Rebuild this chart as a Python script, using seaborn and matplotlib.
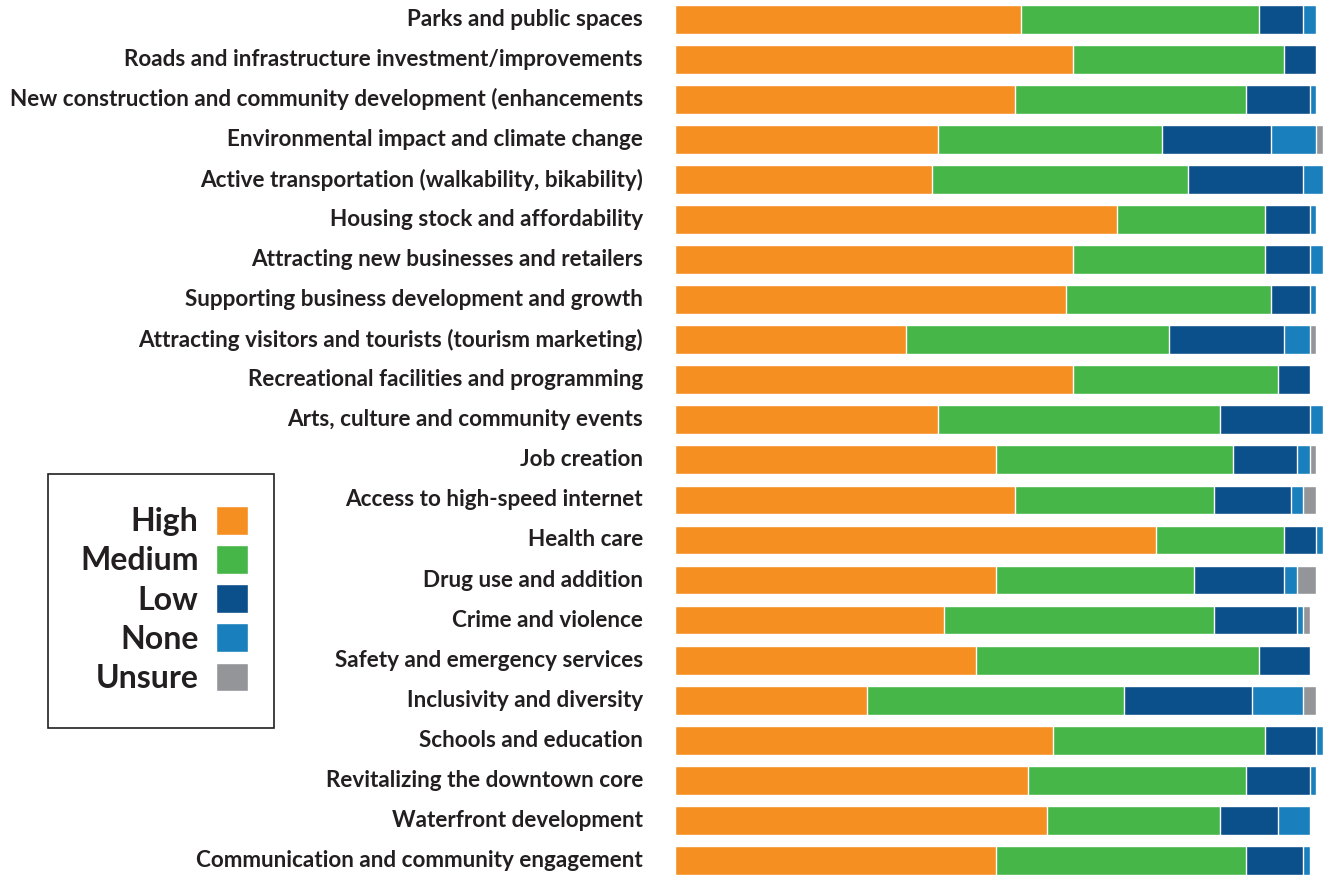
import numpy as np
import pandas as pd
import matplotlib
matplotlib.use("Agg")
import matplotlib.pyplot as plt
from matplotlib.patches import Rectangle
from matplotlib.transforms import ScaledTranslation
import seaborn as sns

categories = [
    "Parks and public spaces",
    "Roads and infrastructure investment/improvements",
    "New construction and community development (enhancements",
    "Environmental impact and climate change",
    "Active transportation (walkability, bikability)",
    "Housing stock and affordability",
    "Attracting new businesses and retailers",
    "Supporting business development and growth",
    "Attracting visitors and tourists (tourism marketing)",
    "Recreational facilities and programming",
    "Arts, culture and community events",
    "Job creation",
    "Access to high-speed internet",
    "Health care",
    "Drug use and addition",
    "Crime and violence",
    "Safety and emergency services",
    "Inclusivity and diversity",
    "Schools and education",
    "Revitalizing the downtown core",
    "Waterfront development",
    "Communication and community engagement",
]

high   = [54, 62, 53, 41, 40, 69, 62, 61, 36, 62, 41, 50, 53, 75, 50, 42, 47, 30, 59, 55, 58, 50]
medium = [37, 33, 36, 35, 40, 23, 30, 32, 41, 32, 44, 37, 31, 20, 31, 42, 44, 40, 33, 34, 27, 39]
low    = [ 7,  5, 10, 17, 18,  7,  7,  6, 18,  5, 14, 10, 12,  5, 14, 13,  8, 20,  8, 10,  9,  9]
none   = [ 2,  0,  1,  7,  3,  1,  2,  1,  4,  0,  2,  2,  2,  1,  2,  1,  0,  8,  1,  1,  5,  1]
unsure = [ 0,  0,  0,  1,  0,  0,  0,  0,  1,  0,  0,  1,  2,  0,  3,  1,  0,  2,  0,  0,  0,  0]

levels = ["High", "Medium", "Low", "None", "Unsure"]
colors = ["#F58F22", "#46B649", "#0B4F8B", "#1A80BD", "#939598"]

df = pd.DataFrame({"category": categories, "High": high, "Medium": medium,
                   "Low": low, "None": none, "Unsure": unsure})
cum = df[levels].cumsum(axis=1)

sns.set_style("white")
plt.rcParams["font.family"] = ["Lato", "DejaVu Sans"]

fig = plt.figure(figsize=(13.31, 8.76), dpi=100)
ax = fig.add_axes([675 / 1331, 0, 656 / 1331, 1])

# draw cumulative totals, widest first, so each segment shows through
for lvl, col in reversed(list(zip(levels, colors))):
    sns.barplot(x=cum[lvl], y=df["category"], color=col, saturation=1,
                width=0.72, orient="h", ax=ax, label=lvl)

ax.set_xlim(0, 102.3)
ax.set_ylim(21.39, -0.482)
ax.set_xlabel("")
ax.set_ylabel("")
ax.set_xticks([])
for s in ax.spines.values():
    s.set_visible(False)
ax.tick_params(axis="y", length=0, pad=23, labelsize=16.2, labelcolor="#231F20")
shift = ScaledTranslation(0, 2 / 100, fig.dpi_scale_trans)
for t in ax.get_yticklabels():
    t.set_fontweight("bold")
    t.set_transform(t.get_transform() + shift)

h, l = ax.get_legend_handles_labels()
order = [l.index(x) for x in levels]
leg = fig.legend([h[i] for i in order], levels, loc="upper left",
                 bbox_to_anchor=(48 / 1331, 1 - 474 / 876), markerfirst=False,
                 frameon=False, fontsize=23,
                 handlelength=1.0, handleheight=1.0, handletextpad=0.55,
                 labelspacing=0.28, borderpad=1.0, borderaxespad=0)
for t in leg.get_texts():
    t.set_fontweight("bold")
    t.set_color("#231F20")
if ax.get_legend() is not None:
    ax.get_legend().remove()

# legend box
fig.patches.append(Rectangle((48 / 1331, 1 - 728 / 876), 226 / 1331, 254 / 876,
                             transform=fig.transFigure, fill=False,
                             edgecolor="#231F20", linewidth=1.2))

fig.savefig("out.png", dpi=100)
